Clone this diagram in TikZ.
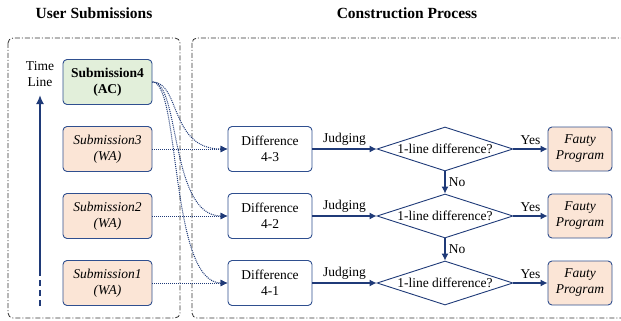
\documentclass[tikz,border=0pt]{standalone}
\usepackage{fontspec}
\setmainfont{Liberation Serif}
\usetikzlibrary{arrows, arrows.meta}
\usetikzlibrary{shapes.geometric}

\definecolor{navy}{HTML}{1F3A78}
\definecolor{boxline}{HTML}{2F4F8F}
\definecolor{acgreen}{HTML}{E2EFDA}
\definecolor{waorange}{HTML}{FBE5D6}

\tikzset{
  frame/.style={draw=black!80, line width=0.8pt, rounded corners=5pt,
    dash pattern=on 5pt off 2pt on 1pt off 2pt},
  title/.style={font=\fontsize{15.5}{18}\selectfont\bfseries},
  subbox/.style={draw=boxline, line width=0.9pt, rounded corners=4pt, align=center,
    minimum width=89pt, minimum height=45pt, inner sep=0pt},
  acbox/.style={subbox, fill=acgreen, font=\fontsize{13.5}{16}\selectfont\bfseries},
  wabox/.style={subbox, fill=waorange, font=\fontsize{13.5}{16}\selectfont\itshape},
  diffbox/.style={subbox, fill=white, minimum width=84pt},
  faulty/.style={subbox, fill=waorange, minimum width=64pt, minimum height=44pt,
    font=\fontsize{13.5}{16}\selectfont\itshape},
  decision/.style={diamond, draw=navy, line width=0.9pt, inner sep=0pt,
    minimum width=136pt, minimum height=44pt},
  flow/.style={navy, line width=1.1pt, -{Latex[length=7pt,width=7pt]}, nodes={text=black}},
  dotlink/.style={navy, line width=1pt, densely dotted, -{Latex[length=7pt,width=7pt]}}
}

\begin{document}
\begin{tikzpicture}[x=1pt, y=-1pt, every node/.append style={font=\fontsize{13.5}{16}\selectfont}]
  \clip (0,0) rectangle (621,321);

  % frames and titles
  \draw[frame] (8,38) rectangle (180,318);
  \draw[frame] (192,38) rectangle (650,318);
  \node[title] (tUser) at (94,13) {User Submissions};
  \node[title] (tProc) at (407,13) {Construction Process};

  % time line
  \node[align=center] (tline) at (40,74) {Time\\Line};
  \coordinate (tlTop) at (40,95);
  \coordinate (tlMid) at (40,273);
  \coordinate (tlBot) at (40,306);
  \draw[navy, line width=1.8pt, dash pattern=on 6pt off 4pt] (tlBot) -- (tlMid);
  \draw[navy, line width=1.8pt, -{Latex[length=9pt,width=8pt]}] (tlMid) -- (tlTop);

  % submissions
  \node[acbox] (s4) at (107.5,82) {Submission4\\(AC)};
  \node[wabox] (s3) at (107.5,149) {Submission3\\(WA)};
  \node[wabox] (s2) at (107.5,216) {Submission2\\(WA)};
  \node[wabox] (s1) at (107.5,283) {Submission1\\(WA)};

  % differences, checks, results
  \node[diffbox] (d3) at (270,149) {Difference\\4-3};
  \node[diffbox] (d2) at (270,216) {Difference\\4-2};
  \node[diffbox] (d1) at (270,283) {Difference\\4-1};
  \node[decision, label=center:{1-line difference?}] (q3) at (445,149) {};
  \node[decision, label=center:{1-line difference?}] (q2) at (445,216) {};
  \node[decision, label=center:{1-line difference?}] (q1) at (445,283) {};
  \node[faulty] (f3) at (580,149) {Fauty\\Program};
  \node[faulty] (f2) at (580,216) {Fauty\\Program};
  \node[faulty] (f1) at (580,283) {Fauty\\Program};

  % dotted inputs
  \foreach \k in {1,2,3} {
    \draw[dotlink] (s\k.east) -- (d\k.west);
    \draw[dotlink] (s4.east) to[out=0, in=180, out distance=28pt, in distance=58pt] (d\k.west);
  }

  % flow
  \foreach \k in {1,2,3} {
    \draw[flow] (d\k) -- node[above] {Judging} (q\k);
    \draw[flow] (q\k) -- node[above] {Yes} (f\k);
  }
  \draw[flow] (q3) -- node[right] {No} (q2);
  \draw[flow] (q2) -- node[right] {No} (q1);
\end{tikzpicture}
\end{document}
